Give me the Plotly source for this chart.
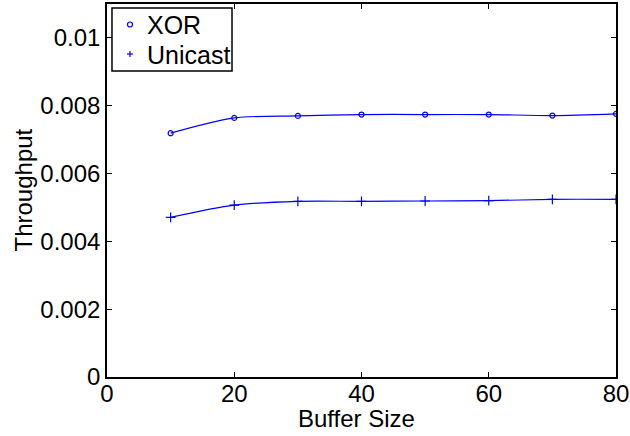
import plotly.graph_objects as go

buffer_size = [10, 20, 30, 40, 50, 60, 70, 80]
xor_tp = [0.00719, 0.00764, 0.00770, 0.00774, 0.00774, 0.00774, 0.00771, 0.00776]
unicast_tp = [0.00471, 0.00507, 0.00518, 0.00518, 0.00519, 0.00520, 0.00524, 0.00524]
series_names = ["XOR", "Unicast"]
y_ticks = [0, 0.002, 0.004, 0.006, 0.008, 0.01]
y_ticktext = ["0", "0.002", "0.004", "0.006", "0.008", "0.01"]
x_ticks = [0, 20, 40, 60, 80]

BLUE = "#0000ff"
FONT = "Liberation Sans, Arial"

fig = go.Figure()
fig.add_trace(go.Scatter(
    x=buffer_size, y=xor_tp, name=series_names[0], mode="lines+markers", showlegend=False,
    line=dict(color=BLUE, width=1.2, shape="spline", smoothing=0.8),
    marker=dict(symbol="circle-open", size=5, color=BLUE, line=dict(width=1.2)),
))
fig.add_trace(go.Scatter(
    x=buffer_size, y=unicast_tp, name=series_names[1], mode="lines+markers", showlegend=False,
    line=dict(color=BLUE, width=1.2, shape="spline", smoothing=0.8),
    marker=dict(symbol="cross-thin-open", size=7, color=BLUE, line=dict(width=1.2, color=BLUE)),
))

axis_common = dict(
    showgrid=False, zeroline=False, showline=True, linecolor="black", linewidth=1.6,
    mirror="ticks", ticks="inside", ticklen=5, tickcolor="black", tickwidth=1,
    tickfont=dict(family=FONT, size=24, color="black"),
    automargin=False, ticklabeloverflow="allow",
)

# legend box (MATLAB style: marker-only entries)
legend_x0, legend_x1, legend_y0, legend_y1 = 0.0098, 0.2456, 0.8204, 0.9893
sym_x, text_x = 0.0452, 0.0747
row_y = [0.9424, 0.8633]
sym_y = [0.9450, 0.8660]

shapes = [dict(type="rect", xref="paper", yref="paper", x0=legend_x0, x1=legend_x1,
               y0=legend_y0, y1=legend_y1, line=dict(color="black", width=1.5),
               fillcolor="white", layer="above")]
# circle symbol
shapes.append(dict(type="circle", xref="paper", yref="paper", xsizemode="pixel", ysizemode="pixel",
                   xanchor=sym_x, yanchor=sym_y[0], x0=-2.5, x1=2.5, y0=-2.5, y1=2.5,
                   line=dict(color=BLUE, width=1.2), layer="above"))
# plus symbol
shapes.append(dict(type="line", xref="paper", yref="paper", xsizemode="pixel", ysizemode="pixel",
                   xanchor=sym_x, yanchor=sym_y[1], x0=-3, x1=3, y0=0, y1=0,
                   line=dict(color=BLUE, width=1.2), layer="above"))
shapes.append(dict(type="line", xref="paper", yref="paper", xsizemode="pixel", ysizemode="pixel",
                   xanchor=sym_x, yanchor=sym_y[1], x0=0, x1=0, y0=-3, y1=3,
                   line=dict(color=BLUE, width=1.2), layer="above"))

annotations = [
    dict(text=name, xref="paper", yref="paper", x=text_x, y=yy, xanchor="left", yanchor="middle",
         showarrow=False, font=dict(family=FONT, size=25, color="black"))
    for name, yy in zip(series_names, row_y)
]
annotations.append(dict(text="Buffer Size", xref="paper", yref="paper", x=0.49, y=-0.112,
                        xanchor="center", yanchor="middle", showarrow=False,
                        font=dict(family=FONT, size=24, color="black")))
annotations.append(dict(text="Throughput", xref="paper", yref="paper", x=-0.165, y=0.5,
                        xanchor="center", yanchor="middle", textangle=-90, showarrow=False,
                        font=dict(family=FONT, size=24, color="black")))

fig.update_layout(
    width=630, height=436,
    margin=dict(l=107, r=14, t=4, b=59),
    paper_bgcolor="white", plot_bgcolor="white",
    font=dict(family=FONT, color="black"),
    xaxis=dict(range=[0, 80], tickvals=x_ticks, ticklabelstandoff=-6, **axis_common),
    yaxis=dict(range=[0, 0.011], tickvals=y_ticks, ticktext=y_ticktext, **axis_common),
    shapes=shapes, annotations=annotations,
    showlegend=False,
)

fig.write_html("out.html", config={"displayModeBar": False},
               post_script="document.body.style.margin='0px';document.body.style.overflow='hidden';")
